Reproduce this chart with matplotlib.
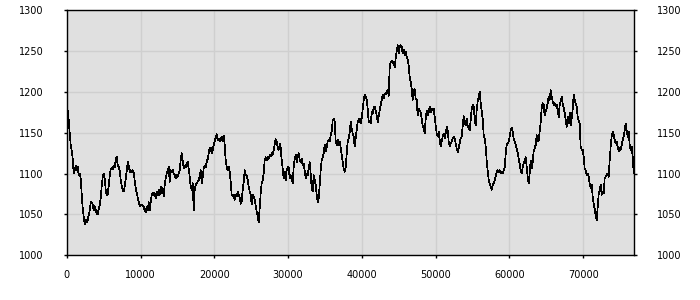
import numpy as np
import matplotlib
matplotlib.use("Agg")
from matplotlib import pyplot as plt

# sample spacing of the series (x runs 0 .. ~77000)
step = 135.5

# values, one per sample, in 10000-wide chunks
seg_0 = [1207, 1176, 1166, 1149, 1135, 1128, 1118, 1100, 1104, 1110,
         1104, 1108, 1098, 1100, 1094, 1074, 1057, 1048, 1038, 1043,
         1040, 1043, 1049, 1055, 1065, 1065, 1062, 1055, 1060, 1056,
         1050, 1050, 1057, 1061, 1070, 1085, 1096, 1100, 1094, 1080,
         1073, 1075, 1085, 1097, 1105, 1107, 1105, 1110, 1108, 1116,
         1121, 1110, 1108, 1104, 1092, 1085, 1080, 1078, 1084, 1093,
         1104, 1114, 1110, 1102, 1104, 1102, 1104, 1101, 1092, 1082,
         1076, 1071, 1065, 1060]
seg_1 = [1062, 1062, 1061, 1059, 1055, 1053, 1059, 1055, 1065, 1055,
         1065, 1074, 1076, 1074, 1076, 1070, 1078, 1073, 1080, 1074,
         1084, 1076, 1082, 1072, 1086, 1094, 1100, 1104, 1108, 1090,
         1104, 1102, 1105, 1100, 1098, 1094, 1098, 1096, 1100, 1104,
         1116, 1125, 1116, 1106, 1110, 1108, 1112, 1114, 1106, 1096,
         1084, 1080, 1088, 1055, 1080, 1086, 1088, 1090, 1092, 1096,
         1104, 1088, 1096, 1106, 1110, 1108, 1114, 1118, 1125, 1131,
         1132, 1125, 1129, 1135]
seg_2 = [1139, 1145, 1148, 1141, 1143, 1140, 1141, 1145, 1139, 1146,
         1135, 1116, 1108, 1104, 1108, 1102, 1090, 1074, 1072, 1074,
         1068, 1074, 1072, 1078, 1074, 1070, 1063, 1066, 1080, 1090,
         1104, 1098, 1098, 1092, 1084, 1078, 1074, 1062, 1074, 1072,
         1068, 1060, 1053, 1048, 1040, 1059, 1076, 1088, 1092, 1100,
         1116, 1120, 1116, 1120, 1118, 1123, 1121, 1125, 1123, 1129,
         1136, 1142, 1139, 1132, 1129, 1136, 1131, 1116, 1106, 1094,
         1102, 1092, 1104, 1108]
seg_3 = [1107, 1094, 1098, 1095, 1088, 1108, 1118, 1123, 1114, 1121,
         1125, 1116, 1114, 1118, 1110, 1112, 1104, 1094, 1100, 1098,
         1106, 1114, 1100, 1082, 1078, 1098, 1092, 1086, 1074, 1065,
         1070, 1086, 1104, 1116, 1120, 1125, 1135, 1127, 1132, 1139,
         1141, 1139, 1147, 1151, 1165, 1167, 1163, 1139, 1135, 1141,
         1135, 1139, 1131, 1123, 1114, 1106, 1102, 1108, 1123, 1139,
         1143, 1151, 1163, 1155, 1149, 1145, 1133, 1143, 1153, 1163,
         1166, 1167, 1161, 1167]
seg_4 = [1179, 1190, 1196, 1194, 1190, 1179, 1163, 1164, 1161, 1175,
         1173, 1181, 1182, 1177, 1171, 1163, 1170, 1177, 1184, 1190,
         1196, 1192, 1198, 1197, 1200, 1202, 1195, 1230, 1236, 1238,
         1235, 1236, 1230, 1241, 1249, 1257, 1247, 1255, 1257, 1255,
         1247, 1251, 1245, 1249, 1243, 1239, 1232, 1218, 1212, 1204,
         1190, 1202, 1203, 1192, 1190, 1171, 1179, 1177, 1175, 1167,
         1159, 1155, 1149, 1167, 1177, 1171, 1175, 1182, 1175, 1179,
         1177, 1179, 1169, 1159]
seg_5 = [1149, 1146, 1151, 1141, 1133, 1139, 1145, 1149, 1143, 1149,
         1157, 1153, 1139, 1133, 1137, 1139, 1143, 1145, 1143, 1137,
         1131, 1126, 1131, 1137, 1143, 1145, 1157, 1170, 1163, 1159,
         1167, 1159, 1155, 1153, 1165, 1179, 1184, 1182, 1167, 1159,
         1177, 1188, 1194, 1200, 1186, 1177, 1167, 1147, 1143, 1133,
         1116, 1104, 1092, 1088, 1084, 1080, 1086, 1088, 1092, 1096,
         1102, 1104, 1102, 1104, 1100, 1102, 1100, 1104, 1108, 1124,
         1135, 1137, 1139, 1145]
seg_6 = [1153, 1156, 1151, 1143, 1139, 1135, 1131, 1125, 1118, 1112,
         1104, 1100, 1108, 1112, 1116, 1120, 1108, 1096, 1088, 1100,
         1116, 1106, 1114, 1127, 1131, 1135, 1147, 1139, 1141, 1151,
         1163, 1180, 1186, 1184, 1171, 1176, 1180, 1186, 1194, 1190,
         1202, 1194, 1188, 1184, 1186, 1182, 1184, 1178, 1169, 1184,
         1188, 1194, 1186, 1180, 1174, 1165, 1157, 1169, 1161, 1174,
         1159, 1167, 1178, 1196, 1190, 1186, 1182, 1169, 1165, 1161,
         1133, 1129, 1129, 1121]
seg_7 = [1106, 1104, 1098, 1100, 1096, 1088, 1082, 1086, 1072, 1063,
         1057, 1049, 1043, 1059, 1074, 1080, 1086, 1074, 1078, 1076,
         1094, 1096, 1099, 1100, 1096, 1116, 1133, 1145, 1151, 1147,
         1141, 1137, 1139, 1133, 1127, 1131, 1129, 1135, 1141, 1145,
         1153, 1161, 1153, 1145, 1151, 1135, 1129, 1133, 1121, 1100]

values = seg_0 + seg_1 + seg_2 + seg_3 + seg_4 + seg_5 + seg_6 + seg_7
x = np.arange(len(values)) * step

x_ticks = [0, 10000, 20000, 30000, 40000, 50000, 60000, 70000]
y_ticks = [1000, 1050, 1100, 1150, 1200, 1250, 1300]

fig = plt.figure(figsize=(7, 3), dpi=100)
ax = fig.add_axes([0.0953, 0.149, 0.8108, 0.8177])
ax.set_facecolor("#e0e0e0")

ax.plot(x, values, color="black", linewidth=0.5, antialiased=False)

ax.set_xlim(0, 76910)
ax.set_ylim(1000, 1300)
ax.set_xticks(x_ticks)
ax.set_yticks(y_ticks)
ax.grid(True, color="#cfcfcf", linewidth=1)
ax.set_axisbelow(True)

for s in ax.spines.values():
    s.set_color("black")
    s.set_linewidth(1)

ax.tick_params(axis="both", direction="out", length=2.5, width=1,
               labelsize=7, colors="black")
ax.tick_params(axis="y", left=True, right=True, labelleft=True,
               labelright=True, pad=14)
ax.tick_params(axis="x", pad=8)

fig.savefig("out.png", dpi=100)
